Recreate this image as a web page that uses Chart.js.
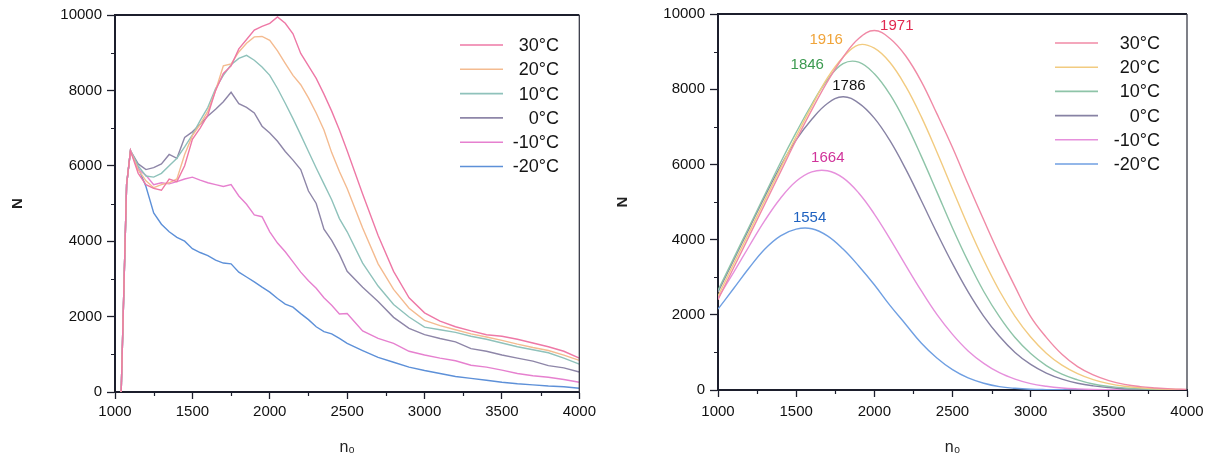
<!DOCTYPE html>
<html>
<head>
<meta charset="utf-8">
<script src="https://cdn.jsdelivr.net/npm/chart.js@4.4.1/dist/chart.umd.min.js"></script>
<style>
  html, body { margin: 0; padding: 0; background: #ffffff; }
  #wrap { position: relative; width: 1210px; height: 461px; overflow: hidden; background: #fff; }
  canvas { position: absolute; top: 0; }
</style>
</head>
<body>
<div id="wrap">
  <canvas id="cL" width="600" height="461" style="left:0px"></canvas>
  <canvas id="cR" width="610" height="461" style="left:600px"></canvas>
</div>
<script>
// ---------- data ----------
const seriesLabels = ['30°C', '20°C', '10°C', '0°C', '-10°C', '-20°C'];

// left panel (simulated counts)
const nLeft = [1040,1075,1100,1150,1200,1250,1300,1350,1400,1450,1500,1550,1600,1650,1700,1750,1800,1850,1900,1950,2000,2050,2100,2150,2200,2250,2300,2350,2400,2450,2500,2600,2700,2800,2900,3000,3100,3200,3300,3400,3500,3600,3700,3800,3900,4000];
const left30  = [0,5500,6400,5800,5500,5400,5350,5650,5580,6000,6700,7000,7350,8000,8450,8650,9100,9350,9600,9700,9780,9950,9780,9500,8980,8650,8320,7900,7450,6950,6400,5250,4150,3200,2500,2100,1880,1730,1620,1520,1480,1400,1300,1200,1080,900];
const left20  = [0,5500,6400,5900,5600,5420,5500,5550,5650,6300,6800,7100,7450,8000,8650,8700,9020,9250,9420,9430,9330,9050,8720,8400,8150,7800,7400,6950,6350,5850,5400,4350,3400,2720,2220,1900,1760,1650,1540,1460,1370,1270,1180,1100,980,840];
const left10  = [0,5500,6400,6000,5730,5700,5800,6000,6200,6500,6820,7200,7550,8050,8400,8680,8850,8930,8800,8620,8400,8050,7660,7250,6820,6380,5940,5520,5100,4600,4250,3420,2810,2320,1990,1720,1650,1580,1480,1400,1300,1200,1120,1040,900,740];
const left0   = [0,5500,6400,6050,5900,5950,6050,6300,6200,6750,6900,7100,7320,7500,7700,7950,7650,7550,7400,7050,6870,6650,6380,6150,5900,5330,5000,4320,4020,3650,3200,2780,2400,1980,1690,1520,1420,1330,1150,1080,980,900,820,700,640,530];
const leftM10 = [0,5500,6400,5900,5750,5500,5550,5520,5580,5650,5700,5620,5550,5500,5450,5500,5200,4980,4700,4650,4250,3950,3720,3450,3180,2950,2750,2500,2300,2070,2080,1620,1420,1290,1080,980,900,830,710,660,580,490,430,390,330,260];
const leftM20 = [0,5500,6400,5950,5450,4750,4450,4250,4100,4000,3800,3700,3620,3500,3420,3400,3180,3050,2920,2780,2650,2480,2330,2250,2080,1920,1730,1600,1540,1420,1290,1100,920,790,660,570,490,410,360,310,260,220,190,160,140,100];

// right panel (fitted curves)
const nRight = [1000,1100,1200,1300,1400,1500,1600,1700,1800,1900,2000,2100,2200,2300,2400,2500,2600,2700,2800,2900,3000,3100,3200,3300,3400,3500,3600,3700,3800,3900,4000];
const right30  = [2400,3250,4100,4950,5800,6650,7450,8200,8850,9350,9560,9350,8890,8210,7350,6450,5470,4520,3600,2750,1950,1400,950,620,400,250,150,90,55,30,15];
const right20  = [2500,3350,4200,5050,5900,6750,7550,8300,8850,9180,9090,8710,8080,7270,6330,5340,4360,3450,2640,1960,1410,980,660,435,275,170,100,60,35,20,10];
const right10  = [2650,3500,4350,5200,6050,6850,7600,8250,8680,8720,8410,7860,7110,6220,5270,4310,3420,2620,1950,1395,970,650,420,270,160,95,55,30,15,8,4];
const right0   = [2600,3450,4300,5150,5950,6650,7200,7620,7800,7630,7230,6630,5880,5040,4180,3360,2610,1960,1430,1000,680,450,290,180,110,65,35,20,10,5,3];
const rightM10 = [2450,3130,3830,4510,5100,5550,5800,5830,5640,5240,4680,4020,3320,2640,2010,1480,1040,710,460,290,170,100,55,30,15,8,4,2,1,0,0];
const rightM20 = [2150,2700,3250,3750,4100,4280,4290,4100,3750,3300,2800,2250,1750,1250,850,540,320,180,90,45,20,10,5,2,0,0,0,0,0,0,0];

// peak annotations (right panel)
const peakLabels = ['1971', '1916', '1846', '1786', '1664', '1554'];
const peakN      = [1971, 1916, 1846, 1786, 1664, 1554];
const peakValue  = [9570, 9190, 8750, 7800, 5850, 4290];

// axis ticks
const xMin = 1000, xMax = 4000, xMajor = 500, xMinor = 250;
const yMin = 0, yMax = 10000, yMajor = 2000, yMinor = 1000;

// ---------- styles ----------
const colorsLeft  = ['#ee78a6', '#f4bb90', '#8fc2bb', '#8e86a8', '#e680cf', '#5d90d8'];
const colorsRight = ['#f08aa6', '#f2cb80', '#8ec4a8', '#8782a4', '#e690dc', '#6f9fe2'];
const peakColors  = ['#e0284f', '#f0a43a', '#3c9a50', '#111111', '#d0339a', '#1f62c0'];
const peakOffsets = [[27,-4],[-35,-5],[-43,4],[8,-11],[6,-12],[5,-11]];
const FONT = "'Liberation Sans', Arial, Helvetica, sans-serif";
const AXIS = '#1c1e2c';

function makeDatasets(xs, ys, colors, smooth) {
  return ys.map((arr, i) => ({
    label: seriesLabels[i],
    data: xs.map((x, j) => ({ x: x, y: arr[j] })),
    borderColor: colors[i],
    backgroundColor: colors[i],
    borderWidth: 1.4,
    pointRadius: 0,
    fill: false,
    tension: smooth ? 0.4 : 0
  }));
}

const frame = {
  id: 'frame',
  afterDraw(chart) {
    const { ctx, chartArea: a, scales } = chart;
    ctx.save();
    ctx.strokeStyle = AXIS;
    ctx.lineWidth = 2;
    ctx.beginPath();
    ctx.moveTo(a.left, a.top); ctx.lineTo(a.right, a.top);
    ctx.stroke();
    ctx.lineWidth = 1.3;
    ctx.strokeStyle = '#3a3c48';
    ctx.beginPath();
    ctx.moveTo(a.right, a.top); ctx.lineTo(a.right, a.bottom);
    ctx.stroke();
    // minor ticks
    ctx.strokeStyle = AXIS;
    ctx.lineWidth = 1.2;
    ctx.beginPath();
    for (let v = xMin + xMinor; v < xMax; v += xMajor) {
      const px = Math.round(scales.x.getPixelForValue(v)) + 0.5;
      ctx.moveTo(px, a.bottom); ctx.lineTo(px, a.bottom + 4);
    }
    for (let v = yMin + yMinor; v < yMax; v += yMajor) {
      const py = Math.round(scales.y.getPixelForValue(v)) + 0.5;
      ctx.moveTo(a.left, py); ctx.lineTo(a.left - 4, py);
    }
    ctx.stroke();
    ctx.restore();
  }
};

function legendPlugin(cfg) {
  return {
    id: 'insideLegend',
    afterDatasetsDraw(chart) {
      const ctx = chart.ctx;
      ctx.save();
      ctx.font = '18px ' + FONT;
      ctx.textAlign = 'right';
      ctx.textBaseline = 'middle';
      chart.data.datasets.forEach((ds, i) => {
        const y = cfg.y0 + i * cfg.dy;
        ctx.strokeStyle = ds.borderColor;
        ctx.lineWidth = 1.6;
        ctx.beginPath();
        ctx.moveTo(cfg.x0, y); ctx.lineTo(cfg.x1, y);
        ctx.stroke();
        ctx.fillStyle = '#151515';
        ctx.fillText(ds.label, cfg.tx, y + 1);
      });
      ctx.restore();
    }
  };
}

const peakPlugin = {
  id: 'peaks',
  afterDatasetsDraw(chart) {
    const { ctx, scales } = chart;
    ctx.save();
    ctx.font = '15px ' + FONT;
    ctx.textAlign = 'center';
    ctx.textBaseline = 'middle';
    peakLabels.forEach((t, i) => {
      const px = scales.x.getPixelForValue(peakN[i]) + peakOffsets[i][0];
      const py = scales.y.getPixelForValue(peakValue[i]) + peakOffsets[i][1];
      ctx.fillStyle = peakColors[i];
      ctx.fillText(t, px, py);
    });
    ctx.restore();
  }
};

function makeOptions(p) {
  return {
    responsive: false,
    animation: false,
    events: [],
    layout: { padding: { left: 0, right: p.padRight, top: p.padTop, bottom: 0 } },
    plugins: { legend: { display: false }, tooltip: { enabled: false } },
    scales: {
      x: {
        type: 'linear', min: xMin, max: xMax,
        afterFit: s => { s.height = p.xHeight; },
        border: { display: true, color: AXIS, width: 2 },
        grid: { drawOnChartArea: false, drawTicks: true, tickLength: 7, tickWidth: 1.3,
                tickColor: c => (c.tick && c.tick.value % xMajor === 0) ? AXIS : 'rgba(0,0,0,0)' },
        ticks: { stepSize: xMinor, autoSkip: false, maxRotation: 0, padding: p.xTickPad, color: '#111',
                 font: { family: FONT, size: 15 },
                 callback: v => (v % xMajor === 0 ? String(v) : '') },
        title: { display: true, text: 'n₀', color: '#222', font: { family: FONT, size: 16 },
                 padding: { top: 0, bottom: p.xTitlePad } }
      },
      y: {
        type: 'linear', min: yMin, max: yMax,
        afterFit: s => { s.width = p.yWidth; },
        border: { display: true, color: AXIS, width: 2 },
        grid: { drawOnChartArea: false, drawTicks: true, tickLength: 8, tickWidth: 1.3,
                tickColor: c => (c.tick && c.tick.value % yMajor === 0) ? AXIS : 'rgba(0,0,0,0)' },
        ticks: { stepSize: yMinor, autoSkip: false, padding: 5, color: '#111',
                 font: { family: FONT, size: 15 },
                 callback: v => (v % yMajor === 0 ? String(v) : '') },
        title: { display: true, text: 'N', color: '#222', font: { family: FONT, size: 15, weight: 'bold' },
                 padding: { top: p.yTitlePad, bottom: 0 } }
      }
    }
  };
}

new Chart(document.getElementById('cL'), {
  type: 'line',
  data: { datasets: makeDatasets(nLeft, [left30, left20, left10, left0, leftM10, leftM20], colorsLeft, false) },
  options: makeOptions({ padRight: 18, padTop: 15, xHeight: 69, yWidth: 115, xTitlePad: 4, yTitlePad: 9, xTickPad: 4 }),
  plugins: [frame, legendPlugin({ x0: 460, x1: 503, tx: 559, y0: 45, dy: 24.3 })]
});

new Chart(document.getElementById('cR'), {
  type: 'line',
  data: { datasets: makeDatasets(nRight, [right30, right20, right10, right0, rightM10, rightM20], colorsRight, true) },
  options: makeOptions({ padRight: 23, padTop: 11, xHeight: 71, yWidth: 118, xTitlePad: 4, yTitlePad: 14, xTickPad: 6 }),
  plugins: [frame, legendPlugin({ x0: 455, x1: 498, tx: 560, y0: 43, dy: 24.2 }), peakPlugin]
});
</script>
</body>
</html>
